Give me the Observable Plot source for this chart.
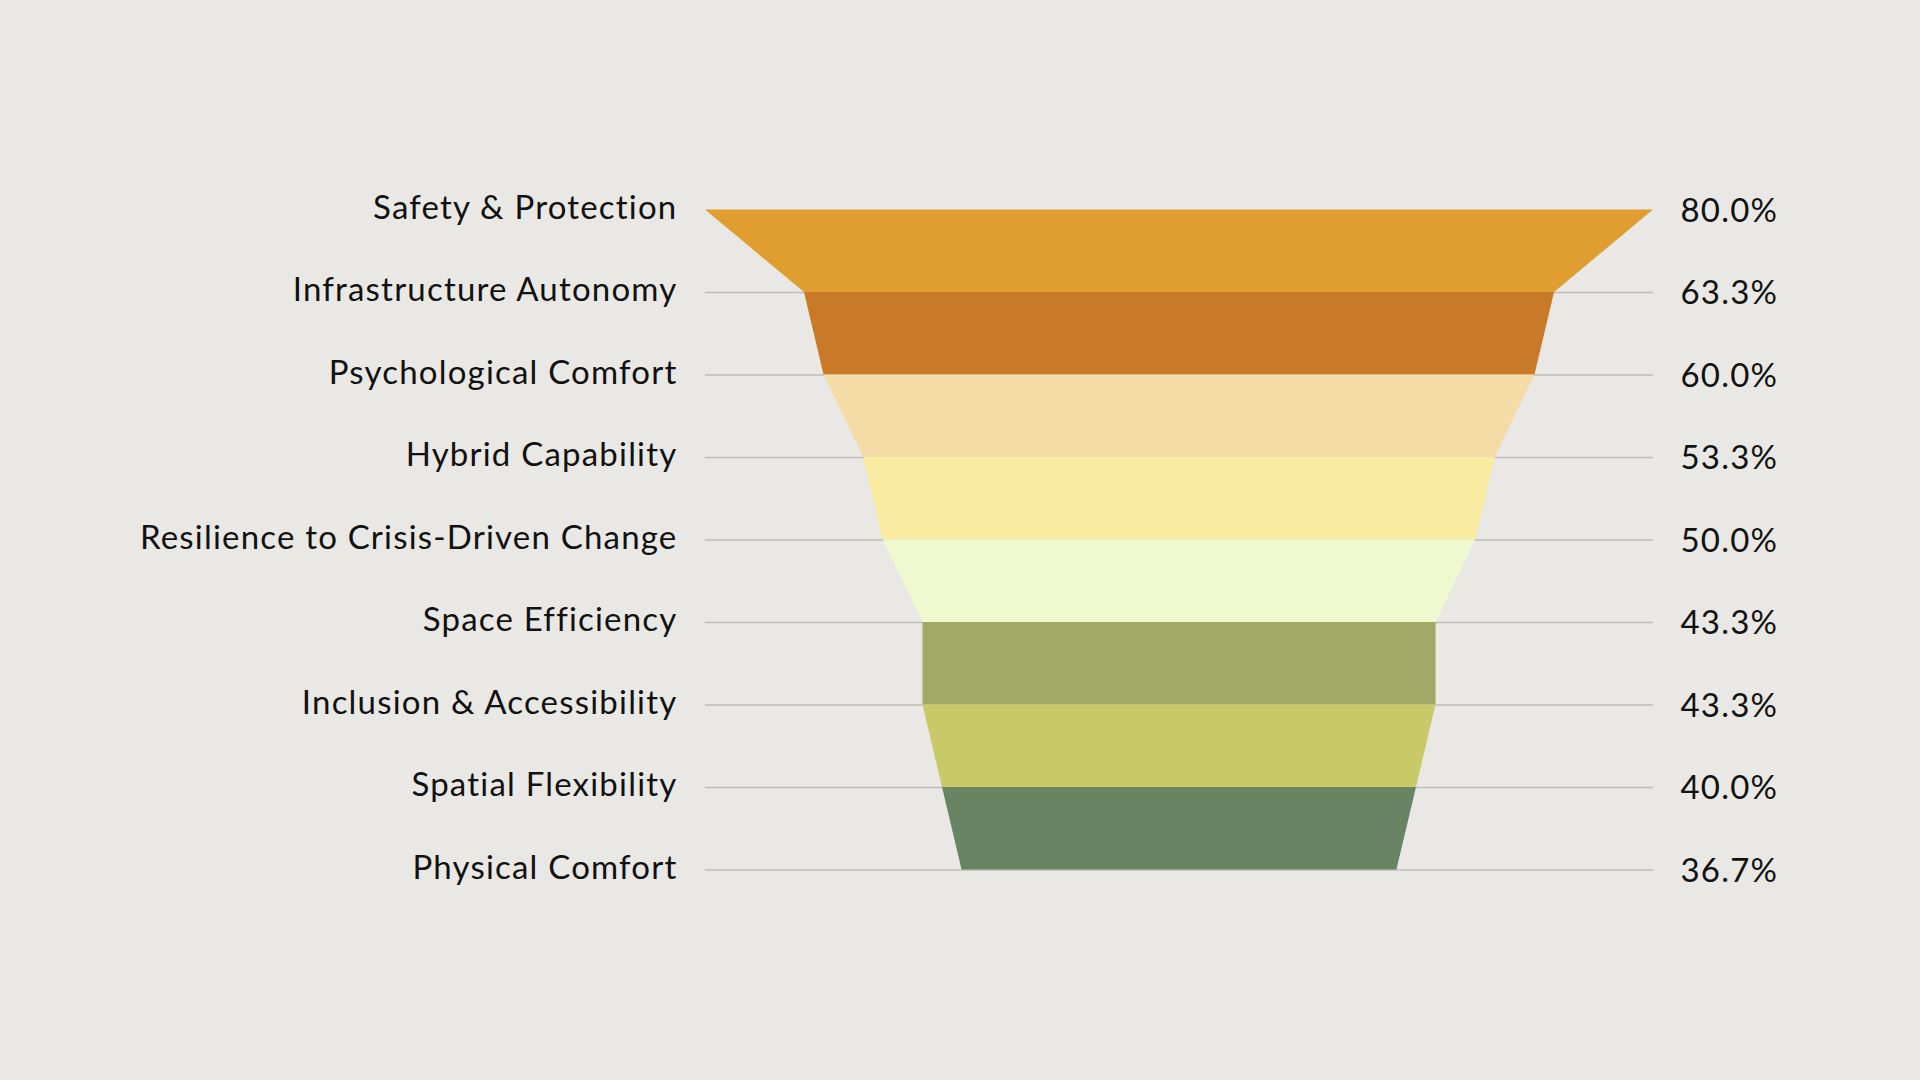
<!DOCTYPE html>
<html>
<head>
<meta charset="utf-8">
<script src="https://cdn.jsdelivr.net/npm/d3@7"></script>
<script src="https://cdn.jsdelivr.net/npm/@observablehq/plot@0.6"></script>
<style>
  html, body { margin: 0; padding: 0; background: #E9E8E4; }
  #chart { width: 1920px; height: 1080px; }
  #chart text { letter-spacing: 1.2px; }
</style>
</head>
<body>
<div id="chart"></div>
<script>
const categories = ["Safety & Protection","Infrastructure Autonomy","Psychological Comfort","Hybrid Capability","Resilience to Crisis-Driven Change","Space Efficiency","Inclusion & Accessibility","Spatial Flexibility","Physical Comfort"];
const values = [80.0, 63.3, 60.0, 53.3, 50.0, 43.3, 43.3, 40.0, 36.7];
const valueLabels = ["80.0%","63.3%","60.0%","53.3%","50.0%","43.3%","43.3%","40.0%","36.7%"];
const bandColors = ["#DF9E2F","#C87A28","#F5DBA5","#F9EB9F","#F0F8D0","#A2A865","#C9C967","#678562"];

const levels = categories.map((c, i) => ({i, c, v: values[i], label: valueLabels[i]}));
const bandPts = [];
for (let b = 0; b < values.length - 1; b++) {
  bandPts.push({band: b, y: b, x1: -values[b], x2: values[b]});
  bandPts.push({band: b, y: b + 1, x1: -values[b + 1], x2: values[b + 1]});
}
const maxV = d3.max(values);

const chart = Plot.plot({
  width: 1920,
  height: 1080,
  margin: 0,
  style: {background: "transparent", fontFamily: "Lato, sans-serif"},
  x: {domain: [-maxV, maxV], range: [705, 1653], axis: null},
  y: {domain: [0, values.length - 1], range: [209.5, 869.5], axis: null},
  marks: [
    Plot.ruleY(levels.slice(1), {y: "i", x1: -maxV, x2: maxV, stroke: "#BDBCB8", strokeWidth: 1.5}),
    Plot.areaX(bandPts, {y: "y", x1: "x1", x2: "x2", z: "band", fill: d => bandColors[d.band], curve: "linear"}),
    Plot.text(levels, {y: "i", x: -maxV, text: "c", textAnchor: "end", dx: -28, dy: -2, fontSize: 33, fill: "#111"}),
    Plot.text(levels, {y: "i", x: maxV, text: "label", textAnchor: "start", dx: 27, dy: 1, fontSize: 33, fill: "#111"})
  ]
});
document.getElementById("chart").appendChild(chart);
</script>
</body>
</html>
